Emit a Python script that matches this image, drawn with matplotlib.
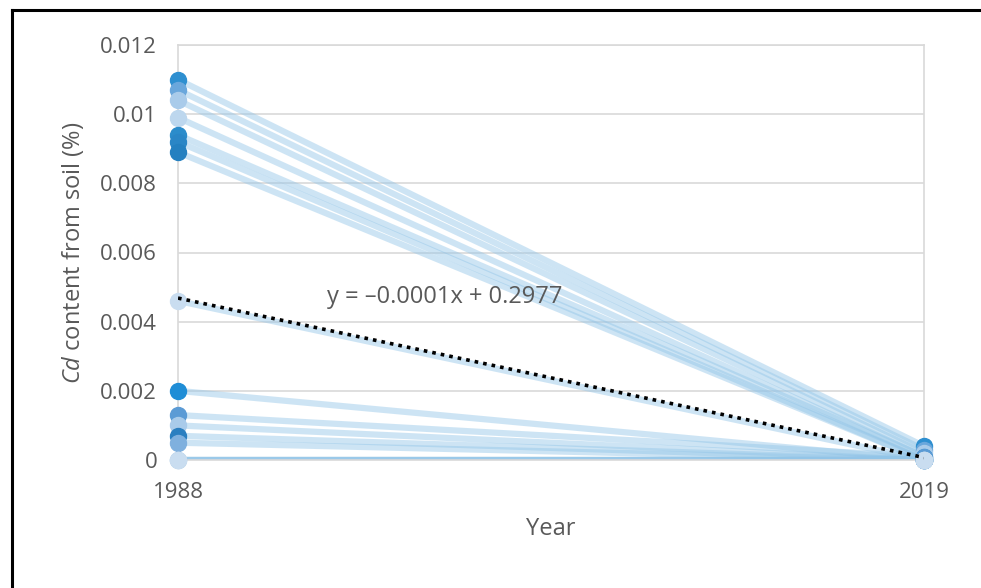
import numpy as np
import matplotlib.pyplot as plt
from matplotlib.lines import Line2D

plt.rcParams['font.family'] = ['Open Sans', 'DejaVu Sans']
plt.rcParams['mathtext.fontset'] = 'custom'
plt.rcParams['mathtext.it'] = 'Open Sans:italic'
plt.rcParams['mathtext.rm'] = 'Open Sans'

# Cd content (%) per sample, 1988 -> 2019
years = [1988, 2019]
cd_1988 = [0.0110, 0.0107, 0.0104, 0.0099, 0.0094, 0.0092, 0.0089, 0.0046,
           0.0020, 0.0013, 0.0010, 0.0007, 0.0005, 0.0, 0.0, 0.0, 0.0]
cd_2019 = [0.0004, 0.0003, 0.0002, 0.0001, 0.0001, 0.0, 0.0, 0.0,
           0.0, 0.0001, 0.0, 0.0, 0.0, 0.0, 0.0, 0.0, 0.0]
marker_colors = ['#2e8fd0', '#6aa7dc', '#a9cbea', '#bdd7ee', '#2b8ccb', '#2a86c6', '#2480c0', '#c9ddf0',
                 '#1f8dd6', '#5b9bd5', '#a9cbea', '#2b7fc0', '#7fb0de', '#c5d9ee', '#c5d9ee', '#bdd7ee', '#c9ddf0']
y_ticks = [0, 0.002, 0.004, 0.006, 0.008, 0.01, 0.012]
y_tick_labels = ['0', '0.002', '0.004', '0.006', '0.008', '0.01', '0.012']

fig = plt.figure(figsize=(9.81, 5.88), dpi=100)
ax = fig.add_axes([178 / 981, 1 - 460 / 588, (924 - 178) / 981, (460 - 45) / 588])

# connecting lines first, then markers on top
for a, b in zip(cd_1988, cd_2019):
    ax.plot(years, [a, b], color='#92c5e8', alpha=0.45, lw=4.5, solid_capstyle='butt', zorder=2)
for a, b, c in zip(cd_1988, cd_2019, marker_colors):
    ax.plot(years, [a, b], ls='none', marker='o', ms=11.5, color=c, mec=c, zorder=3, clip_on=False)

# linear trendline over all points
xs = np.array(years * len(cd_1988)).reshape(len(cd_1988), 2)
ys = np.column_stack([cd_1988, cd_2019])
k, c0 = np.polyfit(xs.ravel(), ys.ravel(), 1)
ax.plot(years, [k * years[0] + c0, k * years[1] + c0], color='black', ls=(0, (1, 1.4)), lw=2.6, zorder=4)
ax.text(1994.2, 0.00472, 'y = \u20130.0001x + 0.2977', fontsize=17, color='#595959', ha='left', va='center')

ax.set_xlim(1988, 2019)
ax.set_ylim(0, 0.012)
ax.set_xticks(years)
ax.set_xticklabels([str(y) for y in years])
ax.set_yticks(y_ticks)
ax.set_yticklabels(y_tick_labels)
ax.tick_params(length=0, labelsize=16, labelcolor='#595959')
ax.tick_params(axis='y', pad=15)
ax.tick_params(axis='x', pad=16)
ax.grid(axis='y', color='#d9d9d9', lw=1.2)
ax.set_axisbelow(True)
for s in ax.spines.values():
    s.set_color('#d9d9d9')
    s.set_linewidth(1.2)

ax.set_xlabel('Year', fontsize=17, color='#595959', labelpad=10)
ax.set_ylabel('$\\it{Cd}$ content from soil (%)', fontsize=17, color='#595959', labelpad=10)

# black frame around the figure (left, top)
fig.add_artist(Line2D([12 / 981, 12 / 981], [0, 1 - 10 / 588], color='black', lw=2.2))
fig.add_artist(Line2D([12 / 981, 1], [1 - 10 / 588, 1 - 10 / 588], color='black', lw=2.2))

fig.savefig('out.png', dpi=100)
